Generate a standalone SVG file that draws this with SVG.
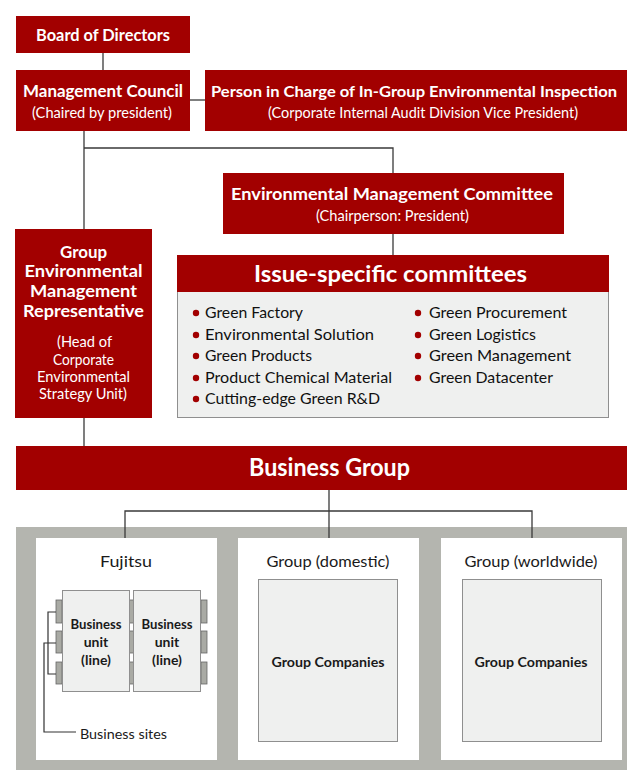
<svg xmlns="http://www.w3.org/2000/svg" width="627" height="770" viewBox="0 0 627 770">
<style>
text{font-family:Lato,"Open Sans","Liberation Sans",sans-serif}
.red{fill:#A20000}
.t{fill:#fff;font-weight:bold;font-size:17px;text-anchor:middle}
.s{fill:#fff;font-size:15px;text-anchor:middle}
.li{fill:#111;font-size:16px}
.b{fill:#A20000}
.lbl{fill:#1a1a1a;font-size:16px;text-anchor:middle}
.gc{fill:#1a1a1a;font-size:14px;font-weight:bold;text-anchor:middle}
.pane{fill:#EFF0EF;stroke:#8f8f8f;stroke-width:1}
.tab{fill:#A9AAA4;stroke:#666;stroke-width:0.8}
.c{fill:none;stroke:#3a3a3a;stroke-width:1.3}
</style>
<rect x="0" y="0" width="627" height="770" fill="#fff"/>
<rect x="16" y="527" width="611" height="243" fill="#B4B5AF"/>
<g id="connectors">
<path class="c" d="M103,53V70"/>
<path class="c" d="M190,100H205"/>
<path class="c" d="M84,131V229"/>
<path class="c" d="M84,148H393V173"/>
<path class="c" d="M393,234V255"/>
<path class="c" d="M84,418V446"/>
<path class="c" d="M329,490V538"/>
<path class="c" d="M125,538V511H532V538"/>
</g>
<g id="board">
<rect class="red" x="16" y="16" width="174" height="37"/>
<text class="t" x="103" y="41" textLength="134" lengthAdjust="spacingAndGlyphs">Board of Directors</text>
</g>
<g id="council">
<rect class="red" x="16" y="70" width="174" height="61"/>
<text class="t" x="103" y="97" textLength="160" lengthAdjust="spacingAndGlyphs">Management Council</text>
<text class="s" x="102" y="118" textLength="140" lengthAdjust="spacingAndGlyphs">(Chaired by president)</text>
</g>
<g id="inspection">
<rect class="red" x="205" y="70" width="422" height="61"/>
<text class="t" x="211" y="97" style="text-anchor:start;font-size:15.5px" textLength="406" lengthAdjust="spacingAndGlyphs">Person in Charge of In-Group Environmental Inspection</text>
<text class="s" x="268" y="118" style="text-anchor:start" textLength="310" lengthAdjust="spacingAndGlyphs">(Corporate Internal Audit Division Vice President)</text>
</g>
<g id="emc">
<rect class="red" x="223" y="173" width="341" height="61"/>
<text class="t" x="392" y="200" textLength="322" lengthAdjust="spacingAndGlyphs">Environmental Management Committee</text>
<text class="s" x="392.5" y="221" textLength="153" lengthAdjust="spacingAndGlyphs">(Chairperson: President)</text>
</g>
<g id="gemr">
<rect class="red" x="15" y="229" width="137" height="189"/>
<text class="t" x="83.5" y="258" textLength="47" lengthAdjust="spacingAndGlyphs">Group</text>
<text class="t" x="83.5" y="277" textLength="118" lengthAdjust="spacingAndGlyphs">Environmental</text>
<text class="t" x="83.5" y="297" textLength="107" lengthAdjust="spacingAndGlyphs">Management</text>
<text class="t" x="83.5" y="317" textLength="121" lengthAdjust="spacingAndGlyphs">Representative</text>
<text class="s" x="84.5" y="347" textLength="55" lengthAdjust="spacingAndGlyphs">(Head of</text>
<text class="s" x="83.5" y="365" textLength="61" lengthAdjust="spacingAndGlyphs">Corporate</text>
<text class="s" x="83.5" y="382" textLength="93" lengthAdjust="spacingAndGlyphs">Environmental</text>
<text class="s" x="83" y="399" textLength="88" lengthAdjust="spacingAndGlyphs">Strategy Unit)</text>
</g>
<g id="issue">
<rect class="pane" x="177.5" y="290.5" width="431" height="127"/>
<rect class="red" x="177" y="255" width="432" height="37"/>
<text class="t" x="390.5" y="282" style="font-size:23px" textLength="273" lengthAdjust="spacingAndGlyphs">Issue-specific committees</text>
<circle class="b" cx="196" cy="313" r="3.2"/>
<circle class="b" cx="196" cy="335" r="3.2"/>
<circle class="b" cx="196" cy="356" r="3.2"/>
<circle class="b" cx="196" cy="378" r="3.2"/>
<circle class="b" cx="196" cy="399" r="3.2"/>
<text class="li" x="205" y="318" textLength="98" lengthAdjust="spacingAndGlyphs">Green Factory</text>
<text class="li" x="205" y="340" textLength="169" lengthAdjust="spacingAndGlyphs">Environmental Solution</text>
<text class="li" x="205" y="361" textLength="107" lengthAdjust="spacingAndGlyphs">Green Products</text>
<text class="li" x="205" y="383" textLength="187" lengthAdjust="spacingAndGlyphs">Product Chemical Material</text>
<text class="li" x="205" y="404" textLength="175" lengthAdjust="spacingAndGlyphs">Cutting-edge Green R&amp;D</text>
<circle class="b" cx="418" cy="313" r="3.2"/>
<circle class="b" cx="418" cy="335" r="3.2"/>
<circle class="b" cx="418" cy="356" r="3.2"/>
<circle class="b" cx="418" cy="378" r="3.2"/>
<text class="li" x="429" y="318" textLength="138" lengthAdjust="spacingAndGlyphs">Green Procurement</text>
<text class="li" x="429" y="340" textLength="107" lengthAdjust="spacingAndGlyphs">Green Logistics</text>
<text class="li" x="429" y="361" textLength="142" lengthAdjust="spacingAndGlyphs">Green Management</text>
<text class="li" x="429" y="383" textLength="124" lengthAdjust="spacingAndGlyphs">Green Datacenter</text>
</g>
<g id="business-group">
<rect class="red" x="16" y="446" width="611" height="44"/>
<text class="t" x="329.5" y="476" style="font-size:24px" textLength="161" lengthAdjust="spacingAndGlyphs">Business Group</text>
</g>
<g id="fujitsu">
<rect x="36" y="538" width="181" height="222" fill="#fff"/>
<text class="lbl" x="126" y="567" textLength="52" lengthAdjust="spacingAndGlyphs">Fujitsu</text>
<rect class="tab" x="56" y="600" width="6" height="23"/>
<rect class="tab" x="56" y="631" width="6" height="22"/>
<rect class="tab" x="56" y="662" width="6" height="22"/>
<rect class="tab" x="129" y="600" width="5" height="23"/>
<rect class="tab" x="129" y="631" width="5" height="22"/>
<rect class="tab" x="129" y="662" width="5" height="22"/>
<rect class="tab" x="201" y="600" width="6" height="23"/>
<rect class="tab" x="201" y="631" width="6" height="22"/>
<rect class="tab" x="201" y="662" width="6" height="22"/>
<rect class="pane" x="62.5" y="590.5" width="67" height="101"/>
<rect class="pane" x="133.5" y="590.5" width="67" height="101"/>
<text class="gc" x="96" y="629" textLength="51" lengthAdjust="spacingAndGlyphs">Business</text>
<text class="gc" x="96" y="647">unit</text>
<text class="gc" x="96" y="665">(line)</text>
<text class="gc" x="167" y="629" textLength="51" lengthAdjust="spacingAndGlyphs">Business</text>
<text class="gc" x="167" y="647">unit</text>
<text class="gc" x="167" y="665">(line)</text>
<path d="M56,612H48V674H56M56,643H44V732H76" fill="none" stroke="#333" stroke-width="1.2"/>
<text x="80" y="739" style="fill:#1a1a1a;font-size:14px" textLength="87" lengthAdjust="spacingAndGlyphs">Business sites</text>
</g>
<g id="domestic">
<rect x="238" y="538" width="181" height="222" fill="#fff"/>
<text class="lbl" x="328" y="567" textLength="123" lengthAdjust="spacingAndGlyphs">Group (domestic)</text>
<rect class="pane" x="258.5" y="579.5" width="139" height="162"/>
<text class="gc" x="328" y="667" textLength="113" lengthAdjust="spacingAndGlyphs">Group Companies</text>
</g>
<g id="worldwide">
<rect x="441" y="538" width="181" height="222" fill="#fff"/>
<text class="lbl" x="531" y="567" textLength="133" lengthAdjust="spacingAndGlyphs">Group (worldwide)</text>
<rect class="pane" x="462.5" y="579.5" width="139" height="162"/>
<text class="gc" x="531" y="667" textLength="113" lengthAdjust="spacingAndGlyphs">Group Companies</text>
</g>
</svg>
